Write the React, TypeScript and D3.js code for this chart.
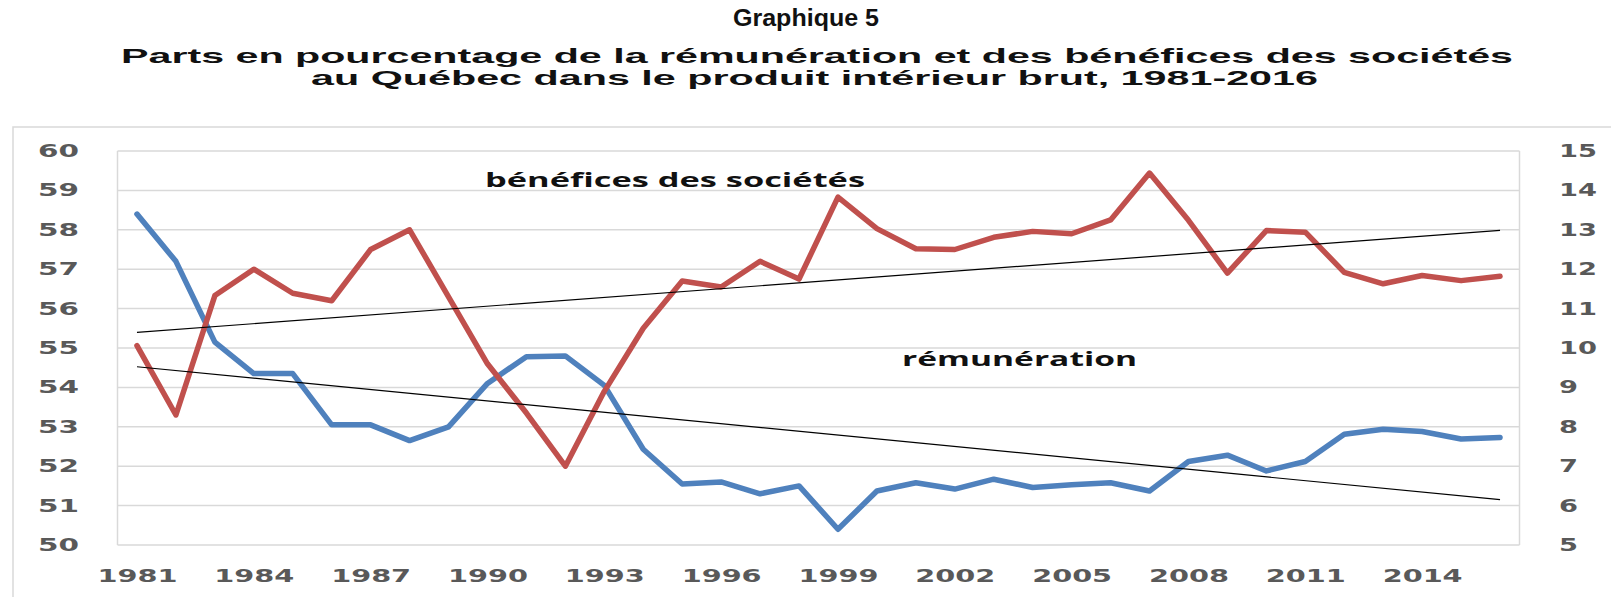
import React, { useRef, useEffect } from 'react';
import * as d3 from 'd3';

// Data
const years = [
    1981, 1982, 1983, 1984, 1985, 1986, 1987, 1988, 1989, 1990, 1991, 1992,
    1993, 1994, 1995, 1996, 1997, 1998, 1999, 2000, 2001, 2002, 2003, 2004,
    2005, 2006, 2007, 2008, 2009, 2010, 2011, 2012, 2013, 2014, 2015, 2016
];

// rémunération, % of GDP (left axis)
const remuneration = [
    58.4, 57.2, 55.15, 54.35, 54.35, 53.05, 53.05, 52.65, 53.0, 54.1, 54.78, 54.8,
    54.05, 52.43, 51.55, 51.6, 51.3, 51.5, 50.4, 51.37, 51.58, 51.42, 51.67, 51.46,
    51.53, 51.58, 51.37, 52.12, 52.28, 51.88, 52.12, 52.81, 52.94, 52.88, 52.69, 52.73
];

// bénéfices des sociétés, % of GDP (right axis)
const benefices = [
    10.06, 8.3, 11.33, 12.0, 11.39, 11.2, 12.5, 13.0, 11.3, 9.6, 8.35, 7.0,
    8.9, 10.5, 11.7, 11.55, 12.2, 11.75, 13.83, 13.03, 12.52, 12.5, 12.81, 12.96,
    12.9, 13.25, 14.44, 13.24, 11.9, 12.98, 12.94, 11.92, 11.63, 11.84, 11.71, 11.82
];

const leftTicks = [50, 51, 52, 53, 54, 55, 56, 57, 58, 59, 60];
const rightTicks = [5, 6, 7, 8, 9, 10, 11, 12, 13, 14, 15];
const yearTicks = [1981, 1984, 1987, 1990, 1993, 1996, 1999, 2002, 2005, 2008, 2011, 2014];

const W = 1611;
const H = 597;
const plot = { left: 117.5, right: 1519.5, top: 151, bottom: 545 };

const BLUE = '#4F81BD';
const RED = '#C0504D';
const GRID = '#d9d9d9';
const TICK = '#595959';
const TICK_FONT = '"DejaVu Sans", Verdana, sans-serif';

// least squares trend, like the Excel linear trendline
function trend(values: number[]) {
    const n = values.length;
    const mx = (n - 1) / 2;
    const my = d3.mean(values) as number;
    let sxy = 0, sxx = 0;
    values.forEach((v, i) => { sxy += (i - mx) * (v - my); sxx += (i - mx) * (i - mx); });
    const b = sxy / sxx;
    return [my - b * mx, my + b * (n - 1 - mx)];
}

export default function App() {
    const axesRef = useRef<SVGGElement>(null);

    const x = d3.scalePoint<number>().domain(years).range([plot.left, plot.right]).padding(0.5);
    const yL = d3.scaleLinear().domain([50, 60]).range([plot.bottom, plot.top]);
    const yR = d3.scaleLinear().domain([5, 15]).range([plot.bottom, plot.top]);

    const lineL = d3.line<number>().x((_, i) => x(years[i]) as number).y(d => yL(d));
    const lineR = d3.line<number>().x((_, i) => x(years[i]) as number).y(d => yR(d));

    const remTrend = trend(remuneration);
    const benTrend = trend(benefices);
    const x0 = x(years[0]) as number;
    const x1 = x(years[years.length - 1]) as number;

    useEffect(() => {
        if (!axesRef.current) return;
        const g = d3.select(axesRef.current);
        g.selectAll('*').remove();

        const style = (sel: d3.Selection<SVGGElement, unknown, null, undefined>) => {
            sel.select('.domain').remove();
            sel.selectAll('line').remove();
            sel.selectAll('text')
                .attr('fill', TICK)
                .attr('font-family', TICK_FONT)
                .attr('font-weight', 'bold')
                .attr('font-size', 17)
                .attr('lengthAdjust', 'spacingAndGlyphs');
        };

        const left = g.append('g')
            .attr('transform', `translate(${plot.left},0)`)
            .call(d3.axisLeft(yL).tickValues(leftTicks).tickSize(0).tickPadding(38.5).tickFormat(d3.format('d')));
        style(left);
        left.selectAll('text').attr('textLength', 41);

        const right = g.append('g')
            .attr('transform', `translate(${plot.right},0)`)
            .call(d3.axisRight(yR).tickValues(rightTicks).tickSize(0).tickPadding(39.5).tickFormat(d3.format('d')));
        style(right);
        right.selectAll<SVGTextElement, number>('text').attr('textLength', d => String(d).length * 19);

        const bottom = g.append('g')
            .attr('transform', `translate(0,${plot.bottom})`)
            .call(d3.axisBottom(x).tickValues(yearTicks).tickSize(0).tickPadding(25));
        style(bottom);
        bottom.selectAll('text').attr('textLength', 80);
    }, []);

    return (
        <svg width={W} height={H} style={{ position: 'absolute', left: 0, top: 0, background: '#fff' }}>
            {/* titles */}
            <g fontFamily='"Liberation Sans", Arial, sans-serif' fontWeight="bold" fill="#111" textAnchor="middle">
                <text x={806} y={26} fontSize={24} textLength={146} lengthAdjust="spacingAndGlyphs">Graphique 5</text>
                <text x={817} y={63} fontSize={21} textLength={1392} lengthAdjust="spacingAndGlyphs">
                    Parts en pourcentage de la rémunération et des bénéfices des sociétés
                </text>
                <text x={814.5} y={85} fontSize={21} textLength={1007} lengthAdjust="spacingAndGlyphs">
                    au Québec dans le produit intérieur brut, 1981-2016
                </text>
            </g>

            {/* chart frame */}
            <rect x={13} y={127} width={W} height={H} fill="none" stroke={GRID} strokeWidth={1.5} />

            {/* gridlines */}
            <g>
                {leftTicks.map(t => (
                    <line key={t} x1={plot.left} x2={plot.right} y1={yL(t)} y2={yL(t)} stroke={GRID} strokeWidth={1.5} />
                ))}
                <line x1={plot.left} x2={plot.left} y1={plot.top} y2={plot.bottom} stroke={GRID} strokeWidth={1.5} />
                <line x1={plot.right} x2={plot.right} y1={plot.top} y2={plot.bottom} stroke={GRID} strokeWidth={1.5} />
            </g>

            {/* series */}
            <path d={lineL(remuneration) || ''} fill="none" stroke={BLUE} strokeWidth={5.5} strokeLinejoin="round" strokeLinecap="round" />
            <path d={lineR(benefices) || ''} fill="none" stroke={RED} strokeWidth={5.5} strokeLinejoin="round" strokeLinecap="round" />

            {/* linear trends */}
            <line x1={x0} x2={x1} y1={yR(benTrend[0])} y2={yR(benTrend[1])} stroke="#000" strokeWidth={1.2} />
            <line x1={x0} x2={x1} y1={yL(remTrend[0])} y2={yL(remTrend[1])} stroke="#000" strokeWidth={1.2} />

            {/* series labels */}
            <g fontFamily='"Open Sans", sans-serif' fontWeight="bold" fill="#111">
                <text x={485} y={187} fontSize={20} textLength={380} lengthAdjust="spacingAndGlyphs">bénéfices des sociétés</text>
                <text x={902} y={366} fontSize={20} textLength={235} lengthAdjust="spacingAndGlyphs">rémunération</text>
            </g>

            <g ref={axesRef} />
        </svg>
    );
}
